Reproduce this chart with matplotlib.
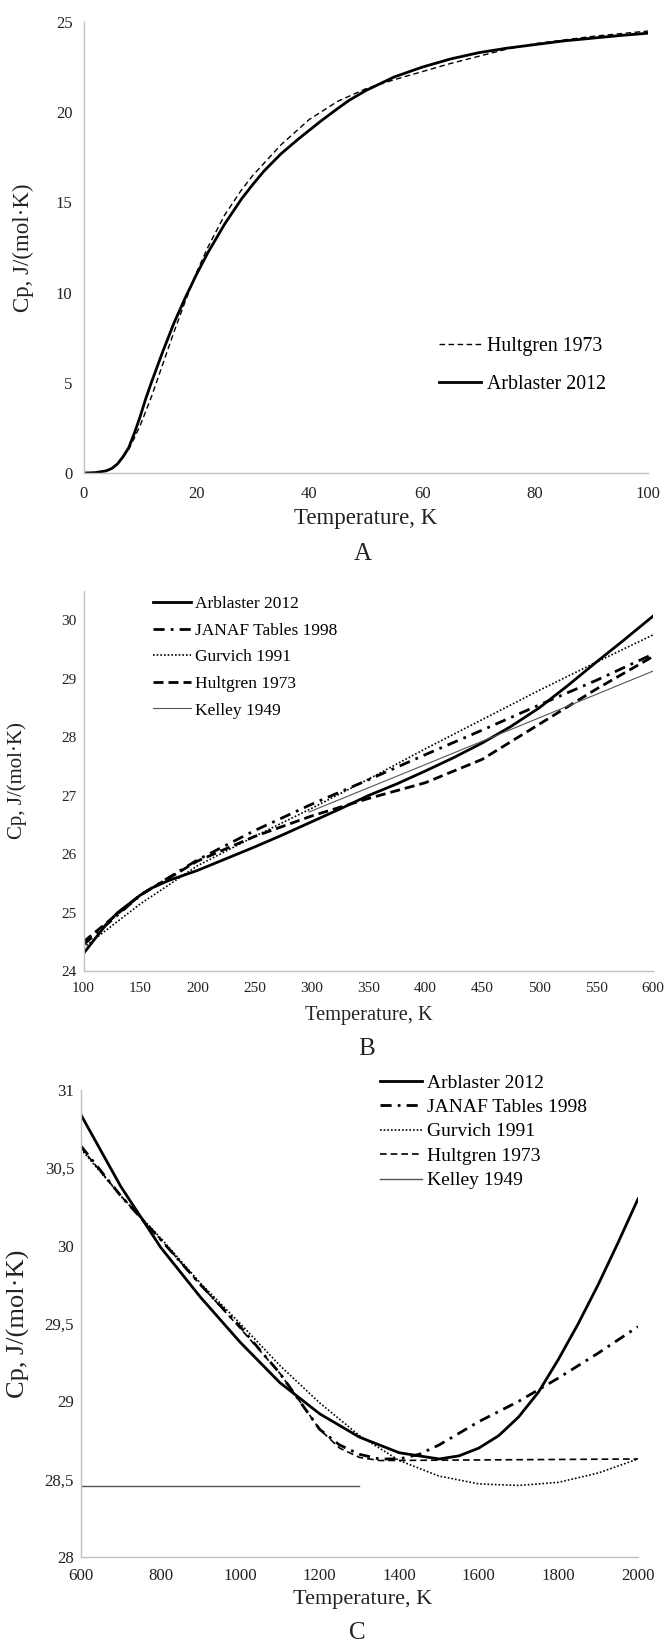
import matplotlib
matplotlib.use("Agg")
import matplotlib.pyplot as plt
from matplotlib.ticker import FuncFormatter

plt.rcParams['font.family'] = ['Liberation Serif', 'DejaVu Serif']

# --- A : 0-100 K
a_T_arb = [0, 2, 4, 5, 6, 7, 8, 9, 10, 11, 12, 14, 16, 18, 20, 22, 25, 28, 30, 32, 35, 38, 40, 42, 45, 47, 50, 55, 60, 65, 70, 75, 80, 85, 90, 95, 100]
a_cp_arb = [0, 0.02, 0.12, 0.25, 0.5, 0.9, 1.4, 2.2, 3.1, 4.1, 5.0, 6.7, 8.3, 9.7, 11.0, 12.2, 13.8, 15.2, 16.0, 16.75, 17.7, 18.5, 19.0, 19.5, 20.2, 20.65, 21.2, 21.95, 22.5, 22.95, 23.3, 23.55, 23.75, 23.95, 24.1, 24.25, 24.38]
a_T_hul = [6, 8, 10, 12, 14, 16, 18, 20, 22, 25, 28, 30, 35, 40, 45, 50, 55, 60, 65, 70, 75, 80, 85, 90, 95, 100]
a_cp_hul = [0.5, 1.3, 2.6, 4.2, 6.0, 7.8, 9.5, 11.1, 12.5, 14.3, 15.7, 16.5, 18.2, 19.6, 20.6, 21.3, 21.8, 22.25, 22.7, 23.1, 23.5, 23.8, 24.0, 24.2, 24.35, 24.5]

# --- B : 100-600 K
b_T_arb = [100, 110, 120, 130, 140, 150, 160, 175, 200, 225, 250, 275, 300, 325, 350, 375, 400, 425, 450, 475, 500, 525, 550, 575, 600]
b_cp_arb = [24.3, 24.55, 24.8, 25.0, 25.15, 25.3, 25.42, 25.55, 25.72, 25.92, 26.12, 26.33, 26.55, 26.77, 27.0, 27.2, 27.42, 27.65, 27.9, 28.18, 28.5, 28.88, 29.28, 29.67, 30.07]
b_T = [100, 150, 200, 250, 300, 350, 400, 450, 500, 550, 600]
b_cp_janaf = [24.45, 25.3, 25.9, 26.4, 26.85, 27.27, 27.7, 28.12, 28.55, 28.97, 29.42]
b_cp_gurv = [24.4, 25.15, 25.8, 26.3, 26.78, 27.28, 27.8, 28.3, 28.8, 29.28, 29.75]
b_cp_hul = [24.5, 25.3, 25.88, 26.3, 26.65, 26.95, 27.22, 27.62, 28.22, 28.82, 29.38]
b_T_kel = [298, 400, 500, 600]
b_cp_kel = [26.72, 27.53, 28.33, 29.13]

# --- C : 600-2000 K
c_T_arb = [600, 700, 800, 900, 1000, 1100, 1200, 1300, 1400, 1500, 1550, 1600, 1650, 1700, 1750, 1800, 1850, 1900, 1950, 2000]
c_cp_arb = [30.84, 30.38, 29.99, 29.67, 29.38, 29.12, 28.92, 28.77, 28.67, 28.63, 28.65, 28.7, 28.78, 28.9, 29.06, 29.27, 29.5, 29.75, 30.02, 30.3]
c_T_janaf = [600, 700, 800, 900, 1000, 1100, 1150, 1200, 1250, 1300, 1350, 1400, 1450, 1500, 1600, 1700, 1800, 1900, 2000]
c_cp_janaf = [30.64, 30.32, 30.04, 29.75, 29.48, 29.18, 29.0, 28.82, 28.72, 28.66, 28.63, 28.63, 28.66, 28.72, 28.87, 29.0, 29.15, 29.31, 29.48]
c_T_gurv = [600, 700, 800, 900, 1000, 1100, 1200, 1300, 1400, 1500, 1600, 1700, 1800, 1900, 2000]
c_cp_gurv = [30.62, 30.32, 30.05, 29.76, 29.5, 29.23, 28.99, 28.78, 28.62, 28.52, 28.47, 28.46, 28.48, 28.54, 28.63]
c_T_hul = [600, 700, 800, 900, 1000, 1100, 1200, 1250, 1300, 1350, 2000]
c_cp_hul = [30.63, 30.32, 30.04, 29.75, 29.47, 29.18, 28.82, 28.7, 28.64, 28.62, 28.63]
c_T_kel = [600, 1300]
c_cp_kel = [28.455, 28.455]

labels = ['Arblaster 2012', 'JANAF Tables 1998', 'Gurvich 1991', 'Hultgren 1973', 'Kelley 1949']

fig = plt.figure(figsize=(6.65, 16.43), dpi=100)
axA = fig.add_axes([0.1256, 0.7121, 0.8489, 0.2745])
axB = fig.add_axes([0.1256, 0.4090, 0.8564, 0.2313])
axC = fig.add_axes([0.1218, 0.0523, 0.8376, 0.2843])

def style(ax, fs, padx, pady):
    for s in ['top', 'right']:
        ax.spines[s].set_visible(False)
    for s in ['left', 'bottom']:
        ax.spines[s].set_color('#c0c0c0')
        ax.spines[s].set_linewidth(1.0)
    ax.tick_params(length=0, labelsize=fs, colors='#222222')
    ax.tick_params(axis='x', pad=padx)
    ax.tick_params(axis='y', pad=pady)

# A
axA.plot(a_T_hul, a_cp_hul, color='black', lw=1.0, dashes=(4, 2.5), label='Hultgren 1973')
axA.plot(a_T_arb, a_cp_arb, color='black', lw=2.0, label='Arblaster 2012')
axA.set_xlim(0, 100)
axA.set_ylim(0, 25)
axA.set_xticks(range(0, 101, 20))
axA.set_yticks(range(0, 26, 5))
style(axA, 12, 9, 8)
axA.legend(loc='upper left', bbox_to_anchor=(0.660, 0.7950), bbox_transform=fig.transFigure,
           frameon=False, fontsize=14.3, handlelength=2.1, handletextpad=0.3,
           labelspacing=0.95, borderpad=0, borderaxespad=0)
fig.text(0.035, 0.8493, 'Cp, J/(mol·K)', rotation=90, ha='center', va='center', fontsize=16.5, color='#222222')
fig.text(0.550, 0.6847, 'Temperature, K', ha='center', va='center', fontsize=16.5, color='#222222')
fig.text(0.545, 0.6628, 'A', ha='center', va='center', fontsize=18, color='#222222')

# B
jdash = (4, 2.2, 1, 2.2)
axB.plot(b_T_arb, b_cp_arb, color='black', lw=2.0, label=labels[0])
axB.plot(b_T, b_cp_janaf, color='black', lw=2.0, dashes=jdash, label=labels[1])
axB.plot(b_T, b_cp_gurv, color='black', lw=1.2, dashes=(1, 1.2), label=labels[2])
axB.plot(b_T, b_cp_hul, color='black', lw=2.0, dashes=(3.6, 1.8), label=labels[3])
axB.plot(b_T_kel, b_cp_kel, color='#555555', lw=0.8, label=labels[4])
axB.set_xlim(100, 600)
axB.set_ylim(24, 30.5)
axB.set_xticks(range(100, 601, 50))
axB.set_yticks(range(24, 31))
style(axB, 11, 8, 5)
axB.legend(loc='upper left', bbox_to_anchor=(0.230, 0.6372), bbox_transform=fig.transFigure,
           frameon=False, fontsize=12.5, handlelength=2.2, handletextpad=0.25,
           labelspacing=0.6, borderpad=0, borderaxespad=0)
fig.text(0.026, 0.5247, 'Cp, J/(mol·K)', rotation=90, ha='center', va='center', fontsize=15, color='#222222')
fig.text(0.555, 0.3822, 'Temperature, K', ha='center', va='center', fontsize=14.7, color='#222222')
fig.text(0.552, 0.3615, 'B', ha='center', va='center', fontsize=18, color='#222222')

# C
axC.plot(c_T_arb, c_cp_arb, color='black', lw=2.0, label=labels[0])
axC.plot(c_T_janaf, c_cp_janaf, color='black', lw=2.0, dashes=jdash, label=labels[1])
axC.plot(c_T_gurv, c_cp_gurv, color='black', lw=1.2, dashes=(1, 1.2), label=labels[2])
axC.plot(c_T_hul, c_cp_hul, color='black', lw=1.2, dashes=(4, 2.4), label=labels[3])
axC.plot(c_T_kel, c_cp_kel, color='#555555', lw=1.0, label=labels[4])
axC.set_xlim(600, 2000)
axC.set_ylim(28, 31)
axC.set_xticks(range(600, 2001, 200))
axC.set_yticks([28, 28.5, 29, 29.5, 30, 30.5, 31])
axC.yaxis.set_major_formatter(FuncFormatter(lambda v, p: f"{v:g}".replace('.', ',')))
style(axC, 12.2, 8, 5)
axC.legend(loc='upper left', bbox_to_anchor=(0.571, 0.3463), bbox_transform=fig.transFigure,
           frameon=False, fontsize=14, handlelength=2.2, handletextpad=0.25,
           labelspacing=0.35, borderpad=0, borderaxespad=0)
fig.text(0.027, 0.1941, 'Cp, J/(mol·K)', rotation=90, ha='center', va='center', fontsize=19, color='#222222')
fig.text(0.546, 0.0262, 'Temperature, K', ha='center', va='center', fontsize=16, color='#222222')
fig.text(0.538, 0.0128, 'C', ha='center', va='top', fontsize=18, color='#222222')

fig.savefig('out.png', dpi=100)
